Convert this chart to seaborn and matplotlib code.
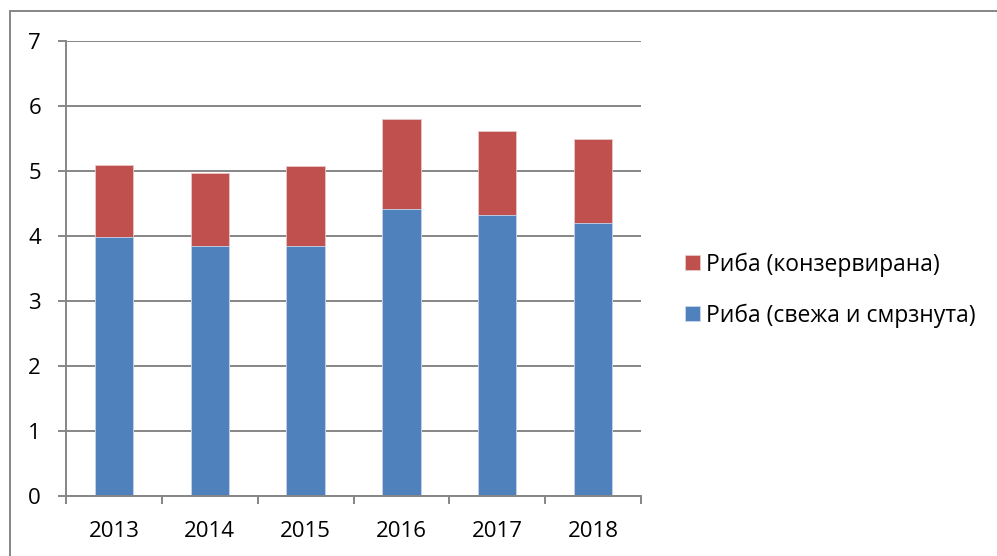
import matplotlib.pyplot as plt
import seaborn as sns
import pandas as pd
from matplotlib.lines import Line2D

# Podatoci od grafikonot
godini = ['2013', '2014', '2015', '2016', '2017', '2018']
sveza = [3.99, 3.85, 3.84, 4.42, 4.33, 4.20]
konzervirana = [1.10, 1.12, 1.24, 1.38, 1.29, 1.29]

dados = pd.DataFrame({'godina': godini, 'sveza': sveza, 'konzervirana': konzervirana})
dados['vkupno'] = dados['sveza'] + dados['konzervirana']

sns.set_theme(style='white')
plt.rcParams['font.family'] = ['Open Sans', 'DejaVu Sans']

siva = '#868686'

fig = plt.figure(figsize=(9.97, 5.56), dpi=100)
ax = fig.add_axes([66 / 997, 1 - 496 / 556, (641 - 66) / 997, (496 - 41) / 556])

# Naslagani stolbovi: prvo vkupno (crveno), pa svezha riba (sino) odozgora
sns.barplot(data=dados, x='godina', y='vkupno', color='#C0504D', width=0.4,
            saturation=1, edgecolor='#E8C8C8', linewidth=0.6, ax=ax,
            label='Риба (конзервирана)')
sns.barplot(data=dados, x='godina', y='sveza', color='#4F81BD', width=0.4,
            saturation=1, edgecolor='#C8D8EC', linewidth=0.6, ax=ax,
            label='Риба (свежа и смрзнута)')

ax.set_ylim(0, 7)
ax.set_xlim(-0.5, 5.5)
ax.set_yticks(range(8))
ax.set_xlabel('')
ax.set_ylabel('')

ax.grid(axis='y', color=siva, linewidth=1.4)
ax.set_axisbelow(True)
for s in ['top', 'right']:
    ax.spines[s].set_visible(False)
for s in ['left', 'bottom']:
    ax.spines[s].set_color(siva)
    ax.spines[s].set_linewidth(1.4)

ax.tick_params(axis='y', direction='out', length=6, width=1.4, color=siva,
               pad=12, labelsize=16, labelcolor='black', left=True)
ax.tick_params(axis='x', which='major', length=0, pad=18, labelsize=16,
               labelcolor='black')
ax.set_xticks([i - 0.5 for i in range(7)], minor=True)
ax.tick_params(axis='x', which='minor', direction='out', length=6, width=1.4,
               color=siva, bottom=True)

handles, labels = ax.get_legend_handles_labels()
ax.legend(handles, labels, loc='center left', bbox_to_anchor=(664 / 997, 1 - 290 / 556),
          bbox_transform=fig.transFigure, frameon=False, fontsize=16.5,
          handlelength=0.65, handleheight=0.65, labelspacing=1.15, handletextpad=0.3,
          labelcolor='black')

# Ramka na grafikonot
fig.add_artist(Line2D([10 / 997, 10 / 997], [0, 1 - 11 / 556], transform=fig.transFigure,
                      color=siva, linewidth=1.4))
fig.add_artist(Line2D([10 / 997, 1], [1 - 11 / 556, 1 - 11 / 556], transform=fig.transFigure,
                      color=siva, linewidth=1.4))

fig.savefig('out.png', dpi=100)
